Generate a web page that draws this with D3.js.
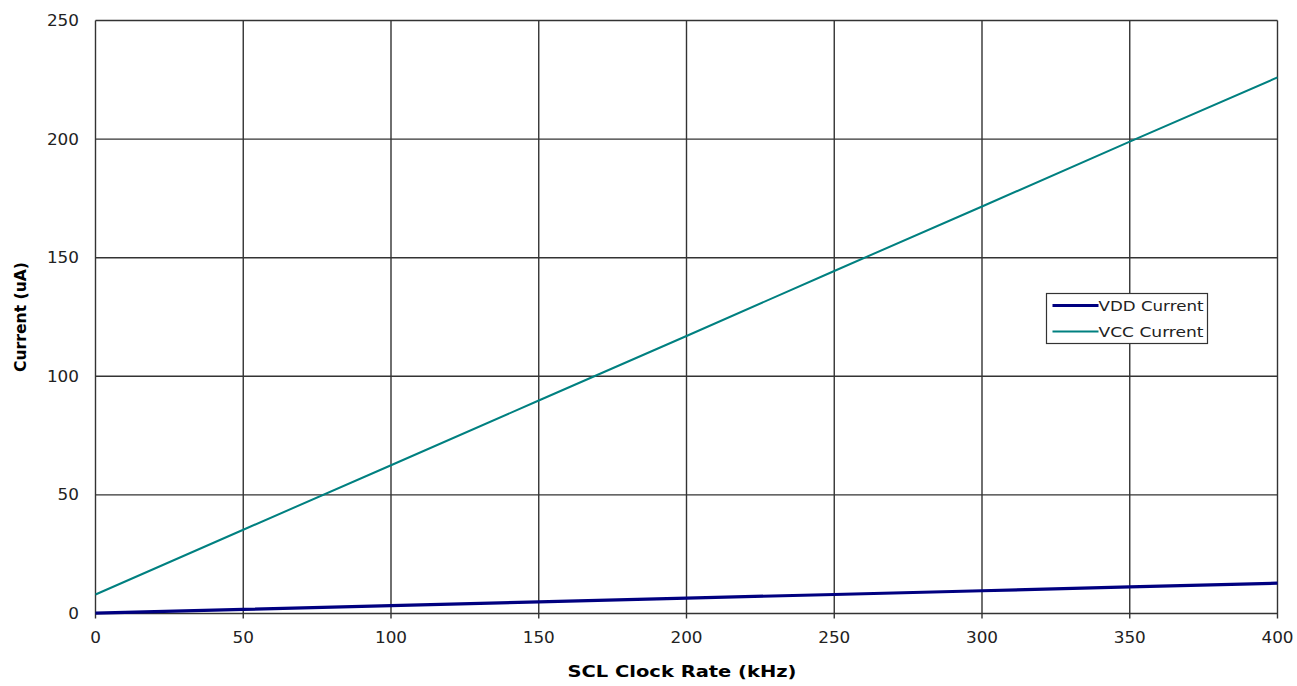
<!DOCTYPE html>
<html>
<head>
<meta charset="utf-8">
<script src="https://cdn.jsdelivr.net/npm/d3@7"></script>
<style>
  body { margin: 0; background: #fff; }
  svg { font-family: "DejaVu Sans", Verdana, sans-serif; }
</style>
</head>
<body>
<svg width="1297" height="686"></svg>
<script>
const clockRates = [0, 50, 100, 150, 200, 250, 300, 350, 400]
const vddCurrent = [0.2, 1.7, 3.3, 4.9, 6.5, 8.0, 9.6, 11.2, 12.8]
const vccCurrent = [8.0, 35.3, 62.5, 89.8, 117.0, 144.4, 171.6, 198.9, 226.0]
const xTicks = [0, 50, 100, 150, 200, 250, 300, 350, 400]
const yTicks = [0, 50, 100, 150, 200, 250]
const seriesNames = ["VDD Current", "VCC Current"]
const seriesColors = ["#000080", "#008080"]

const svg = d3.select('svg')
const plotLeft = 95.5, plotRight = 1277.5, plotTop = 20.5, plotBottom = 613.5

const x = d3.scaleLinear().domain([0, 400]).range([plotLeft, plotRight])
const y = d3.scaleLinear().domain([0, 250]).range([plotBottom, plotTop])

// digits in the original are wide, stretch a bit
const digitWidth = 10.7

// grid
svg.append('g').selectAll('line')
    .data(xTicks)
    .enter().append('line')
    .attr('x1', d => x(d)).attr('x2', d => x(d))
    .attr('y1', plotTop).attr('y2', plotBottom + 5)
    .attr('stroke', '#333').attr('stroke-width', 1.4)

svg.append('g').selectAll('line')
    .data(yTicks)
    .enter().append('line')
    .attr('x1', plotLeft).attr('x2', plotRight)
    .attr('y1', d => y(d)).attr('y2', d => y(d))
    .attr('stroke', '#333').attr('stroke-width', 1.4)

// tick labels
svg.append('g').selectAll('text')
    .data(xTicks)
    .enter().append('text')
    .attr('x', d => x(d)).attr('y', 643)
    .attr('text-anchor', 'middle')
    .attr('font-size', 15)
    .attr('textLength', d => String(d).length * digitWidth)
    .attr('lengthAdjust', 'spacingAndGlyphs')
    .attr('fill', '#222')
    .text(d => d)

svg.append('g').selectAll('text')
    .data(yTicks)
    .enter().append('text')
    .attr('x', 79).attr('y', d => y(d) + 5.5)
    .attr('text-anchor', 'end')
    .attr('font-size', 15)
    .attr('textLength', d => String(d).length * digitWidth)
    .attr('lengthAdjust', 'spacingAndGlyphs')
    .attr('fill', '#222')
    .text(d => d)

// axis titles
svg.append('text')
    .attr('x', 682).attr('y', 677)
    .attr('text-anchor', 'middle')
    .attr('font-size', 16).attr('font-weight', 'bold')
    .attr('textLength', 229).attr('lengthAdjust', 'spacingAndGlyphs')
    .text('SCL Clock Rate (kHz)')

svg.append('text')
    .attr('transform', 'translate(26,317) rotate(-90)')
    .attr('text-anchor', 'middle')
    .attr('font-size', 16.5).attr('font-weight', 'bold')
    .attr('textLength', 110).attr('lengthAdjust', 'spacingAndGlyphs')
    .text('Current (uA)')

// series
const line = d3.line().x(d => x(d[0])).y(d => y(d[1]))
svg.append('path')
    .datum(d3.zip(clockRates, vccCurrent))
    .attr('d', line)
    .attr('fill', 'none')
    .attr('stroke', seriesColors[1]).attr('stroke-width', 2)

svg.append('path')
    .datum(d3.zip(clockRates, vddCurrent))
    .attr('d', line)
    .attr('fill', 'none')
    .attr('stroke', seriesColors[0]).attr('stroke-width', 3.2)

// legend
const legend = svg.append('g').attr('transform', 'translate(1046.5,293.5)')
legend.append('rect')
    .attr('width', 161).attr('height', 50)
    .attr('fill', '#fff').attr('stroke', '#333').attr('stroke-width', 1.2)
seriesNames.forEach((name, i) => {
    legend.append('line')
        .attr('x1', 6).attr('x2', 52)
        .attr('y1', 12 + i * 26).attr('y2', 12 + i * 26)
        .attr('stroke', seriesColors[i]).attr('stroke-width', i === 0 ? 3 : 2)
    legend.append('text')
        .attr('x', 52).attr('y', 17 + i * 26)
        .attr('font-size', 14).attr('fill', '#222')
        .attr('textLength', 105).attr('lengthAdjust', 'spacingAndGlyphs')
        .text(name)
})
</script>
</body>
</html>
